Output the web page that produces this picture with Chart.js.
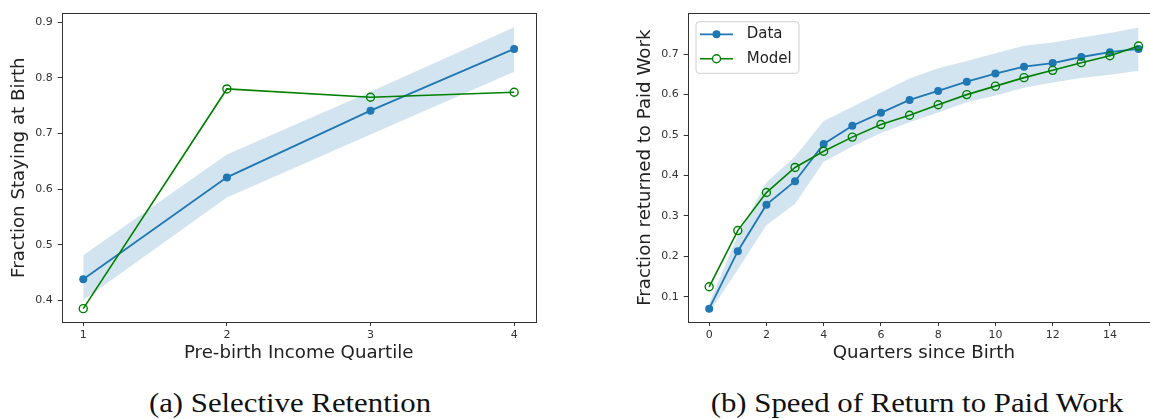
<!DOCTYPE html>
<html>
<head>
<meta charset="utf-8">
<script src="https://cdn.jsdelivr.net/npm/chart.js@4.4.1/dist/chart.umd.min.js"></script>
<style>
  html, body { margin: 0; padding: 0; background: #fff; overflow: hidden; width: 1150px; height: 419px; }
  canvas { position: absolute; top: 0; }
  #left { left: 0; }
  #right { left: 626px; }
  .caption {
    position: absolute; top: 387px; line-height: 32px;
    font-family: 'Liberation Serif', serif; font-size: 28px; color: #111;
    white-space: nowrap; transform: translateX(-50%) scaleX(1.1);
  }
</style>
</head>
<body>
<canvas id="left" width="560" height="370"></canvas>
<canvas id="right" width="544" height="370"></canvas>
<div class="caption" style="left:290px">(a) Selective Retention</div>
<div class="caption" style="left:917px">(b) Speed of Return to Paid Work</div>
<script>
// --- DATA ---
// (a) selective retention by pre-birth income quartile
const quartiles = [1, 2, 3, 4];
const retentionData = [0.438, 0.621, 0.741, 0.852];
const retentionLower = [0.400, 0.585, 0.698, 0.811];
const retentionUpper = [0.481, 0.662, 0.775, 0.891];
const retentionModel = [0.385, 0.780, 0.765, 0.774];
const quartileTicks = [1, 2, 3, 4];
const retentionTicks = [0.4, 0.5, 0.6, 0.7, 0.8, 0.9];

// (b) return to paid work by quarters since birth
const quarters = [0, 1, 2, 3, 4, 5, 6, 7, 8, 9, 10, 11, 12, 13, 14, 15];
const returnData = [0.071, 0.213, 0.328, 0.386, 0.478, 0.523, 0.555, 0.587, 0.609, 0.632, 0.652, 0.669, 0.678, 0.693, 0.705, 0.713];
const returnLower = [0.060, 0.168, 0.277, 0.330, 0.434, 0.472, 0.505, 0.532, 0.556, 0.581, 0.598, 0.617, 0.630, 0.641, 0.649, 0.659];
const returnUpper = [0.085, 0.252, 0.383, 0.447, 0.535, 0.570, 0.605, 0.640, 0.665, 0.683, 0.702, 0.721, 0.729, 0.741, 0.752, 0.766];
const returnModel = [0.125, 0.264, 0.358, 0.420, 0.460, 0.495, 0.526, 0.549, 0.575, 0.600, 0.621, 0.642, 0.660, 0.679, 0.696, 0.720];
const quarterTicks = [0, 2, 4, 6, 8, 10, 12, 14];
const returnTicks = [0.1, 0.2, 0.3, 0.4, 0.5, 0.6, 0.7];

// --- STYLE ---
const BLUE = '#1f77b4';
const GREEN = '#008000';
const BAND = 'rgba(31,119,180,0.2)';
const AXIS = '#333';
const FONT = 'DejaVu Sans';

// matplotlib-like box round the plot area
const framePlugin = {
    id: 'frame',
    afterDatasetsDraw(chart) {
        const { ctx, chartArea: a } = chart;
        ctx.save();
        ctx.strokeStyle = AXIS;
        ctx.lineWidth = 1;
        const l = Math.round(a.left) + 0.5, t = Math.round(a.top) + 0.5;
        const r = Math.round(a.right) + 0.5, b = Math.round(a.bottom) + 0.5;
        ctx.strokeRect(l, t, r - l, b - t);
        ctx.restore();
    }
};

// legend inside the axes, upper left
const insetLegend = {
    id: 'insetLegend',
    afterDraw(chart, args, opts) {
        if (!opts.show) return;
        const { ctx, chartArea: a } = chart;
        const items = chart.data.datasets.filter(d => d.inLegend);
        const x0 = a.left + 8.3, y0 = a.top + 8.4, w = 103, h = 51.6;
        ctx.save();
        ctx.beginPath();
        ctx.roundRect(x0, y0, w, h, 3);
        ctx.fillStyle = 'rgba(255,255,255,0.8)';
        ctx.fill();
        ctx.strokeStyle = '#d0d0d0';
        ctx.lineWidth = 1;
        ctx.stroke();
        items.forEach((d, i) => {
            const y = y0 + 12.6 + i * 24.4;
            ctx.beginPath();
            ctx.moveTo(x0 + 4, y);
            ctx.lineTo(x0 + 37, y);
            ctx.strokeStyle = d.borderColor;
            ctx.lineWidth = d.borderWidth;
            ctx.stroke();
            ctx.beginPath();
            ctx.arc(x0 + 20.5, y, d.pointRadius, 0, Math.PI * 2);
            if (d.pointBackgroundColor !== 'rgba(0,0,0,0)') {
                ctx.fillStyle = d.pointBackgroundColor;
                ctx.fill();
            } else {
                ctx.fillStyle = '#fff';
                ctx.fill();
                ctx.lineWidth = d.pointBorderWidth;
                ctx.strokeStyle = d.pointBorderColor;
                ctx.stroke();
            }
            ctx.fillStyle = '#222';
            ctx.font = `15px "${FONT}"`;
            ctx.textBaseline = 'middle';
            ctx.fillText(d.label, x0 + 50.7, y);
        });
        ctx.restore();
    }
};

const tickFont = { family: FONT, size: 11 };
const titleFont = { family: FONT, size: 18.2 };

const buildChart = (id, o) => {
    const pts = arr => o.x.map((x, i) => ({ x: x, y: arr[i] }));
    return new Chart(document.getElementById(id), {
        type: 'line',
        data: {
            datasets: [
                { label: 'lower', data: pts(o.lower), borderWidth: 0, pointRadius: 0, fill: false, order: 3 },
                { label: 'upper', data: pts(o.upper), borderWidth: 0, pointRadius: 0, fill: '-1', backgroundColor: BAND, order: 2 },
                {
                    label: 'Data', inLegend: true, data: pts(o.data), borderColor: BLUE, borderWidth: 1.8,
                    pointRadius: 4, pointBackgroundColor: BLUE, pointBorderColor: BLUE, pointBorderWidth: 0, order: 1
                },
                {
                    label: 'Model', inLegend: true, data: pts(o.model), borderColor: GREEN, borderWidth: 1.6,
                    pointRadius: 4, pointBackgroundColor: 'rgba(0,0,0,0)', pointBorderColor: GREEN, pointBorderWidth: 1.4, order: 0
                }
            ]
        },
        options: {
            responsive: false,
            animation: false,
            events: [],
            elements: { line: { tension: 0 } },
            layout: { padding: { top: 13.3, right: o.padRight, left: 0, bottom: 0 } },
            plugins: {
                legend: { display: false },
                tooltip: { enabled: false },
                insetLegend: { show: o.legend }
            },
            scales: {
                x: {
                    type: 'linear', min: o.xMin, max: o.xMax,
                    afterBuildTicks: s => { s.ticks = o.xTicks.map(v => ({ value: v })); },
                    afterFit: s => { s.height = 48; },
                    ticks: { font: tickFont, color: AXIS, padding: 3, maxRotation: 0, autoSkip: false, callback: v => String(v) },
                    grid: { display: true, drawOnChartArea: false, tickLength: 4, color: AXIS },
                    border: { display: false },
                    title: { display: true, text: o.xTitle, font: titleFont, color: '#222', padding: { top: 0, bottom: 6 } }
                },
                y: {
                    min: o.yMin, max: o.yMax,
                    afterBuildTicks: s => { s.ticks = o.yTicks.map(v => ({ value: v })); },
                    afterFit: s => { s.width = 61.7; },
                    ticks: { font: tickFont, color: AXIS, padding: 5, autoSkip: false, callback: v => v.toFixed(1) },
                    grid: { display: true, drawOnChartArea: false, tickLength: 4, color: AXIS },
                    border: { display: false },
                    title: { display: true, text: o.yTitle, font: titleFont, color: '#222', padding: { top: 8, bottom: 0 } }
                }
            }
        },
        plugins: [framePlugin, insetLegend]
    });
};

buildChart('left', {
    x: quartiles, data: retentionData, lower: retentionLower, upper: retentionUpper, model: retentionModel,
    xMin: 0.85, xMax: 4.15, yMin: 0.361, yMax: 0.916, xTicks: quartileTicks, yTicks: retentionTicks,
    xTitle: 'Pre-birth Income Quartile', yTitle: 'Fraction Staying at Birth', padRight: 24.3, legend: false
});

buildChart('right', {
    x: quarters, data: returnData, lower: returnLower, upper: returnUpper, model: returnModel,
    xMin: -0.75, xMax: 15.75, yMin: 0.038, yMax: 0.801, xTicks: quarterTicks, yTicks: returnTicks,
    xTitle: 'Quarters since Birth', yTitle: 'Fraction returned to Paid Work', padRight: 10, legend: true
});
</script>
</body>
</html>
